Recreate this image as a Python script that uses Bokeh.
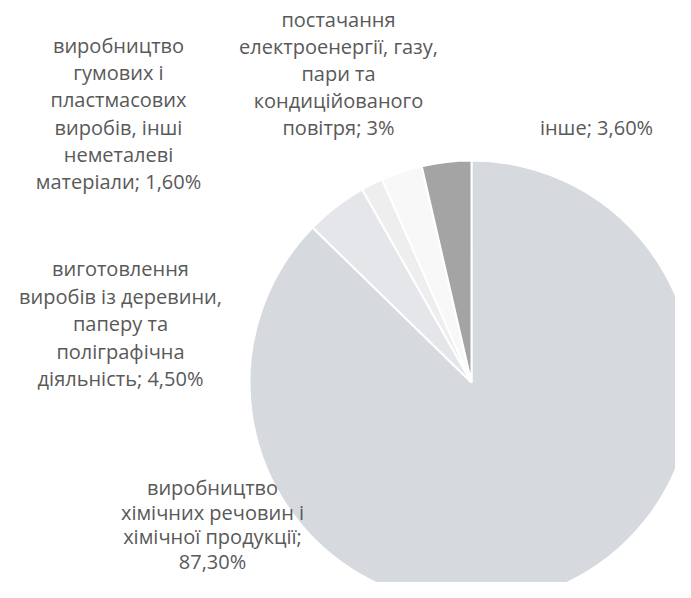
import math
from bokeh.plotting import figure
from bokeh.models import Range1d
from bokeh.core.properties import value
from bokeh.embed import file_html
from bokeh.resources import INLINE

# data
categories = [
    "виробництво хімічних речовин і хімічної продукції",
    "виготовлення виробів із деревини, паперу та поліграфічна діяльність",
    "виробництво гумових і пластмасових виробів, інші неметалеві матеріали",
    "постачання електроенергії, газу, пари та кондиційованого повітря",
    "інше",
]
shares = [87.3, 4.5, 1.6, 3.0, 3.6]
label_lines = [
    ["виробництво", "хімічних речовин і", "хімічної продукції;", "87,30%"],
    ["виготовлення", "виробів із деревини,", "паперу та", "поліграфічна", "діяльність; 4,50%"],
    ["виробництво", "гумових і", "пластмасових", "виробів, інші", "неметалеві", "матеріали; 1,60%"],
    ["постачання", "електроенергії, газу,", "пари та", "кондиційованого", "повітря; 3%"],
    ["інше; 3,60%"],
]
colors = ["#d6d9de", "#e4e6e9", "#eeeeee", "#f8f8f8", "#a4a4a4"]

W, H = 675, 582
p = figure(width=W, height=H, output_backend="svg", toolbar_location=None,
           x_range=Range1d(0, W), y_range=Range1d(0, H), min_border=0)
p.axis.visible = False
p.grid.visible = False
p.outline_line_color = None
p.background_fill_color = "white"

cx, cy, r = 471, H - 382, 222
total = sum(shares)
cum = 0.0
starts, ends = [], []
for s in shares:
    starts.append(math.pi / 2 - 2 * math.pi * cum / total)
    cum += s
    ends.append(math.pi / 2 - 2 * math.pi * cum / total)

p.wedge(x=[cx] * len(shares), y=[cy] * len(shares), radius=r,
        start_angle=starts, end_angle=ends, direction="clock",
        fill_color=colors, line_color="white", line_width=2)

# label anchor: (center x, first line y, line spacing) in picture px
anchors = [(212, 487, 24.5), (120, 268, 27.5), (118, 45, 27.2), (338, 19, 27), (596, 127, 27)]
for (ax, ay, lh), lines in zip(anchors, label_lines):
    xs = [ax] * len(lines)
    ys = [H - (ay + i * lh) for i in range(len(lines))]
    p.text(x=xs, y=ys, text=lines, text_align="center", text_baseline="middle",
           text_font=value("Open Sans"), text_font_size="20px", text_color="#595959")

open("out.html", "w").write(file_html(p, INLINE))
